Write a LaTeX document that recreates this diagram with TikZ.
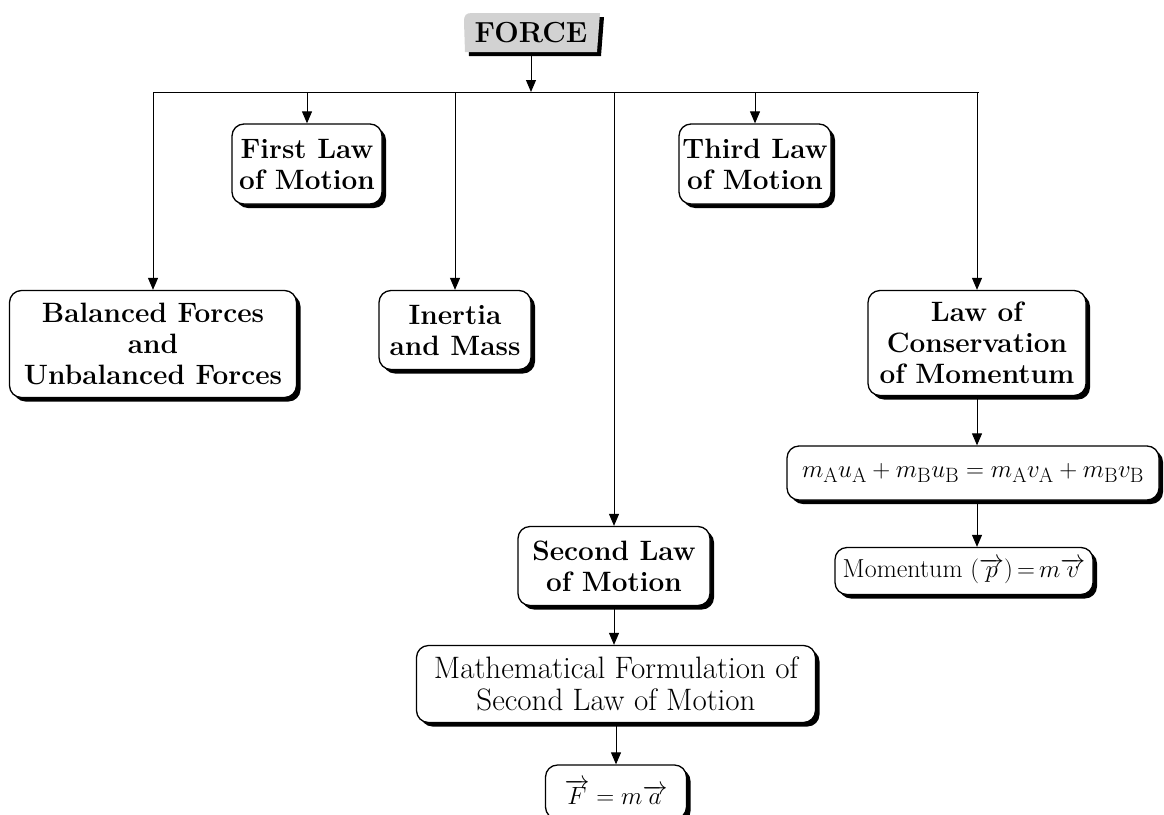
\documentclass[tikz,border=0pt]{standalone}
\usetikzlibrary{arrows.meta,shadows}
\begin{document}
\begin{tikzpicture}[x=1pt,y=-1pt,
  box/.style={draw, line width=1.3pt, rounded corners=12pt, fill=white, align=center,
    inner sep=0pt, drop shadow={shadow xshift=4pt, shadow yshift=-4pt, opacity=1, fill=black}},
  bf/.style={font=\fontsize{28}{31}\selectfont\bfseries},
  rf/.style={font=\fontsize{31}{32}\selectfont},
  mf/.style={font=\fontsize{28}{32}\selectfont},
  arr/.style={line width=1pt, -{Triangle[length=12pt,width=10pt]}},
  ln/.style={line width=1pt}]
\useasboundingbox (0,0) rectangle (1164,814);
% FORCE
\fill[black] (467,17) -- (604,17) -- (601,56) -- (469,56) -- cycle;
\fill[gray!35] (464,22) .. controls (464,15) and (466,13) .. (472,13) -- (600,13) -- (597,52) -- (465,52) -- cycle;
\node[bf, font=\fontsize{29}{31}\selectfont\bfseries, minimum width=130pt, minimum height=39pt, inner sep=0pt] (force) at (531,33) {FORCE};
\coordinate (hub) at (531,92);
\coordinate (hl) at (153,92);
\coordinate (hr) at (979,92);
% boxes
\node[box,bf,minimum width=150pt,minimum height=80pt] (first) at (307,164) {First Law\\of Motion};
\node[box,bf,minimum width=152pt,minimum height=80pt] (third) at (755,164) {Third Law\\of Motion};
\node[box,bf,minimum width=287pt,minimum height=107pt] (bal) at (153,344) {Balanced Forces\\and\\Unbalanced Forces};
\node[box,bf,minimum width=152pt,minimum height=79pt] (inertia) at (455,330) {Inertia\\and Mass};
\node[box,bf,minimum width=218pt,minimum height=105pt] (cons) at (977,343) {Law of\\Conservation\\of Momentum};
\node[box,mf,minimum width=372pt,minimum height=54pt] (eq) at (973,473) {$m_{\mathrm{A}}u_{\mathrm{A}} + m_{\mathrm{B}}u_{\mathrm{B}} = m_{\mathrm{A}}v_{\mathrm{A}} + m_{\mathrm{B}}v_{\mathrm{B}}$};
\node[box,font=\fontsize{26}{30}\selectfont,minimum width=258pt,minimum height=47pt] (mom) at (964,571) {Momentum $(\overrightarrow{p})\mkern-2mu=\mkern-2mu m\overrightarrow{v}$};
\node[box,bf,minimum width=192pt,minimum height=79pt] (second) at (614,566) {Second Law\\of Motion};
\node[box,rf,minimum width=399pt,minimum height=77pt] (math) at (616,684) {Mathematical Formulation of\\Second Law of Motion};
\node[box,rf,minimum width=141pt,minimum height=54pt] (F) at (616,792) {$\overrightarrow{F} = m\overrightarrow{a}$};
% connectors
\draw[arr] (force) -- (hub);
\draw[ln] (hl) -- (hr);
\draw[arr] (hl) -- (bal.north);
\draw[arr] (first.north |- hl) -- (first.north);
\draw[arr] (inertia.north |- hl) -- (inertia.north);
\draw[arr] (second.north |- hl) -- (second.north);
\draw[arr] (third.north |- hl) -- (third.north);
\draw[arr] (cons.north |- hl) -- (cons.north);
\draw[arr] (cons.south) -- (cons.south |- eq.north);
\draw[arr] (cons.south |- eq.south) -- (cons.south |- mom.north);
\draw[arr] (second.south) -- (second.south |- math.north);
\draw[arr] (math.south) -- (math.south |- F.north);
\end{tikzpicture}
\end{document}
